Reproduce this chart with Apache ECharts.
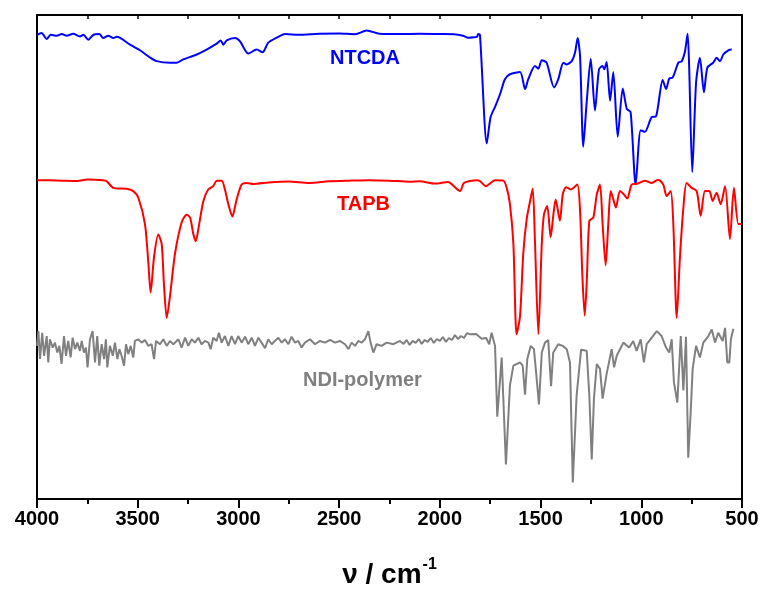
<!DOCTYPE html>
<html>
<head>
<meta charset="utf-8">
<script src="https://cdn.jsdelivr.net/npm/echarts@6/dist/echarts.min.js"></script>
<style>
html,body{margin:0;padding:0;background:#fff;}
#chart{width:764px;height:594px;}
</style>
</head>
<body>
<div id="chart"></div>
<script>
// x tick labels (wavenumber, cm-1)
var xTicks = [4000, 3500, 3000, 2500, 2000, 1500, 1000, 500];

// NTCDA spectrum (offset transmittance, arbitrary units)
var ntcdaWn = [4000,3977,3952,3932,3902,3877,3853,3820,3787,3770,3745,3720,3691,3671,3646,3621,3604,3538,3489,3439,3406,3340,3306,3274,3207,3158,3108,3088,3075,3058,3017,2992,2951,2909,2880,2852,2810,2769,2700,2600,2500,2420,2363,2300,2200,2100,2000,1930,1885,1860,1830,1815,1810,1801,1767,1748,1726,1701,1677,1652,1602,1577,1561,1528,1511,1494,1470,1433,1412,1387,1370,1345,1329,1316,1304,1288,1271,1251,1230,1210,1192,1184,1172,1155,1139,1117,1092,1072,1053,1028,1003,982,948,927,894,877,861,844,816,799,783,770,762,747,728,709,689,672,643,626,609,593,568,551];
var ntcdaVal = [470,471.7,465.7,470,469,470.7,469,471,468.3,470,465,470,470.7,466.7,469,466.7,468,460,454.3,447,443.3,441.7,441.7,445,450,455,461,464.3,460,464.3,466.7,463.3,451,455,452.3,462,467,470.7,470,471,471.3,470.5,474.3,471,470.7,471,470.7,470.5,469,467,467.5,468,470.7,470,360,386.7,397,410,425,430,432.3,415,425,438.3,435.7,444.3,441.7,416.7,425,441.7,440,443.3,451.7,466.7,448.3,356.7,402,445.7,393.3,435,438.3,435,442.3,403.3,432.3,366.7,415.7,395,391.7,318.3,373.3,371.7,386.7,387.3,424.3,415,425.7,426.7,441.7,443.3,453.3,471,435,331,421.7,446.7,411.7,436.7,441.7,446.7,443.3,450,454.3,455];

// TAPB spectrum
var tapbWn = [4000,3900,3800,3750,3671,3654,3621,3555,3522,3497,3464,3447,3436,3419,3398,3381,3370,3356,3340,3315,3282,3257,3240,3224,3212,3199,3174,3150,3125,3108,3083,3067,3050,3030,3009,2984,2959,2926,2850,2750,2650,2550,2450,2350,2250,2150,2100,2024,1960,1900,1880,1817,1800,1771,1726,1685,1668,1652,1635,1619,1602,1586,1569,1552,1539,1528,1511,1494,1483,1467,1450,1437,1425,1404,1390,1374,1350,1318,1304,1293,1281,1271,1258,1238,1221,1205,1192,1177,1164,1152,1139,1126,1106,1086,1069,1048,1023,982,948,916,891,874,854,841,824,808,791,775,750,725,705,684,662,646,626,606,584,560,540,518,500];
var tapbVal = [322.7,322.5,322,323.5,322.7,321.7,315,314,311.7,305,278.3,238.3,209,245,267.7,258.3,218.3,183.3,205,248.3,280,287.7,285,268.3,261,273.3,301.7,313.3,316.7,322.3,322.3,313.3,298.3,286,303.3,318.3,320,319,320.5,321.5,320,321.7,322.3,322.7,322.3,321.3,321.7,319.3,321,311.7,320,322.7,321.7,316.7,322.7,322.3,315,298.3,258.3,166.7,185,248.3,283.3,301.7,314.3,261.7,166.7,258.3,288.3,296.7,265,286.7,303.3,281.7,308.3,315.7,313.3,318.3,291.7,228.3,185.7,218.3,281.7,285,308.3,318.3,278.3,236.7,278,311.7,303.3,295,311.7,308.3,304.3,318.3,319,322.3,320,323.3,318.3,306.7,311.7,278.3,183.3,245,295,320,315,311.7,286.7,311.7,311.7,301.7,310,298.3,316.7,263.3,315,278.3,278.3];

// NDI-polymer spectrum
var ndiWn = [4000,3993,3985,3974,3965,3952,3944,3936,3922,3911,3899,3889,3878,3866,3856,3845,3833,3823,3811,3800,3787,3778,3767,3757,3749,3737,3724,3712,3701,3691,3679,3667,3658,3651,3638,3624,3613,3601,3591,3580,3568,3558,3547,3535,3522,3514,3497,3480,3464,3447,3431,3419,3409,3389,3373,3356,3340,3323,3298,3282,3265,3249,3232,3216,3199,3183,3166,3149,3138,3125,3108,3097,3083,3067,3050,3034,3017,3001,2984,2967,2951,2934,2918,2901,2885,2868,2852,2835,2819,2802,2785,2769,2752,2736,2719,2703,2686,2670,2645,2620,2595,2570,2545,2521,2496,2471,2454,2438,2421,2405,2388,2372,2355,2344,2330,2314,2289,2264,2231,2198,2180,2165,2150,2135,2120,2105,2090,2075,2060,2045,2030,2015,2000,1985,1970,1955,1940,1925,1910,1895,1880,1865,1850,1820,1792,1770,1755,1743,1726,1715,1693,1672,1652,1635,1602,1589,1577,1566,1549,1533,1523,1508,1494,1478,1462,1448,1437,1412,1390,1370,1354,1340,1321,1299,1271,1258,1246,1235,1221,1205,1192,1172,1147,1135,1122,1089,1060,1040,1023,1003,987,973,948,923,899,877,861,849,838,821,804,791,778,767,755,745,728,709,692,667,650,634,618,596,584,573,563,555,543];
var ndiVal = [155,170,141.7,168.3,145,165,138.3,161.7,153.3,158.3,148.3,155,136.7,165,145,160,143.3,163.3,151.7,158.3,150,160,148.3,153.3,133.3,161.7,170,138.3,165,135,156.7,141.7,161.7,133.3,155,145,158.3,141.7,151.7,145,135,156.7,146.7,155,143.3,160,161.7,158.3,161,155,156.7,141.7,160,156.7,161.7,155,160,156.7,161.7,153.3,163.3,155,161.7,158.3,163.3,156.7,160,158.3,151.7,163.3,160,168.3,158.3,165,155,165,156.7,165,158.3,164.3,156.7,163.3,155,163.3,158.3,152.7,161.7,156.7,160,163.3,158.3,161.7,156.7,164.3,158.3,160,153.3,158.3,161.7,156.7,160,158.3,161,158.3,160,156.7,151.7,158.3,155,160,158.3,161.7,170,158.3,148.3,156.7,155,158.3,156.7,160,157,161,156,160,158,162,157,161,159,163,158,162,160,164,159,163,161,166,162,165,163,168,166.7,167,162.3,163,156.7,168.3,155,83.3,143.3,35,115,135,138.3,135,105.7,141.7,155,151.7,130,95.7,148.3,158.3,161,114.3,148.3,156.7,155,151.7,138.3,16.7,105,151,150,105,40,101.7,136.7,131.7,101.7,126.7,151.7,133.3,145,158.3,153.3,160,150,161.7,138.3,156.7,163.3,170,165,153.3,148.3,161.7,118.3,97.7,165,110,164.3,41.7,86.7,131.7,155,143.3,158.3,165,171.7,158.3,168.3,160,173.3,138.3,138.3,161.7,172.3];

var seriesNames = ['NTCDA', 'TAPB', 'NDI-polymer'];
var seriesColors = ['#0000ff', '#ff0000', '#808080'];

function pairs(wn, val) {
  var out = [];
  for (var i = 0; i < wn.length && i < val.length; i++) out.push([wn[i], val[i]]);
  return out;
}

var chart = echarts.init(document.getElementById('chart'), null, {renderer: 'canvas'});
var FONT = '"Liberation Sans", Arial, sans-serif';

var option = {
  animation: false,
  backgroundColor: '#ffffff',
  grid: {left: 37, right: 22, top: 15, bottom: 89, containLabel: false},
  xAxis: [{
    type: 'value',
    inverse: true,
    min: 500, max: 4000, interval: 500,
    position: 'bottom',
    axisLine: {show: true, onZero: false, lineStyle: {color: '#000', width: 2}},
    axisTick: {show: true, inside: false, length: 9, lineStyle: {color: '#000', width: 2}},
    minorTick: {show: true, splitNumber: 2, length: 5, lineStyle: {color: '#000', width: 2}},
    splitLine: {show: false},
    axisLabel: {
      show: true, margin: 10, color: '#000', fontSize: 20, fontWeight: 'bold', fontFamily: FONT,
      formatter: function (v) { return xTicks.indexOf(v) >= 0 ? String(v) : ''; }
    },
    name: '{a|\u03bd / cm}{b|-1}',
    nameLocation: 'middle',
    nameGap: 58,
    nameTextStyle: {
      rich: {
        a: {fontSize: 28, fontWeight: 'bold', fontFamily: FONT, color: '#000', verticalAlign: 'bottom', lineHeight: 32},
        b: {fontSize: 16, fontWeight: 'bold', fontFamily: FONT, color: '#000', verticalAlign: 'top', lineHeight: 32, padding: [0, 0, 15, 1]}
      }
    }
  }, {
    type: 'value',
    inverse: true,
    min: 500, max: 4000, interval: 500,
    position: 'top',
    axisLine: {show: true, onZero: false, lineStyle: {color: '#000', width: 2}},
    axisTick: {show: true, inside: true, length: 4, lineStyle: {color: '#000', width: 1.5}},
    minorTick: {show: true, splitNumber: 2, length: 4, lineStyle: {color: '#000', width: 1.5}},
    splitLine: {show: false},
    axisLabel: {show: false}
  }],
  yAxis: [{
    type: 'value', min: 0, max: 490, position: 'left',
    axisLine: {show: true, onZero: false, lineStyle: {color: '#000', width: 2}},
    axisTick: {show: false}, axisLabel: {show: false}, splitLine: {show: false}
  }, {
    type: 'value', min: 0, max: 490, position: 'right',
    axisLine: {show: true, onZero: false, lineStyle: {color: '#000', width: 2}},
    axisTick: {show: false}, axisLabel: {show: false}, splitLine: {show: false}
  }],
  series: [
    {name: seriesNames[0], type: 'line', data: pairs(ntcdaWn, ntcdaVal), showSymbol: false, smooth: 0.25,
     lineStyle: {color: seriesColors[0], width: 2}, itemStyle: {color: seriesColors[0]}},
    {name: seriesNames[1], type: 'line', data: pairs(tapbWn, tapbVal), showSymbol: false, smooth: 0.25,
     lineStyle: {color: seriesColors[1], width: 2}, itemStyle: {color: seriesColors[1]}},
    {name: seriesNames[2], type: 'line', data: pairs(ndiWn, ndiVal), showSymbol: false,
     lineStyle: {color: seriesColors[2], width: 2}, itemStyle: {color: seriesColors[2]}}
  ],
  graphic: [
    {type: 'text', left: 330, top: 48, style: {text: seriesNames[0], fill: seriesColors[0], font: 'bold 20px "Liberation Sans", Arial, sans-serif'}},
    {type: 'text', left: 337, top: 194, style: {text: seriesNames[1], fill: seriesColors[1], font: 'bold 20px "Liberation Sans", Arial, sans-serif'}},
    {type: 'text', left: 303, top: 370, style: {text: seriesNames[2], fill: seriesColors[2], font: 'bold 20px "Liberation Sans", Arial, sans-serif'}}
  ]
};
chart.setOption(option);
</script>
</body>
</html>
